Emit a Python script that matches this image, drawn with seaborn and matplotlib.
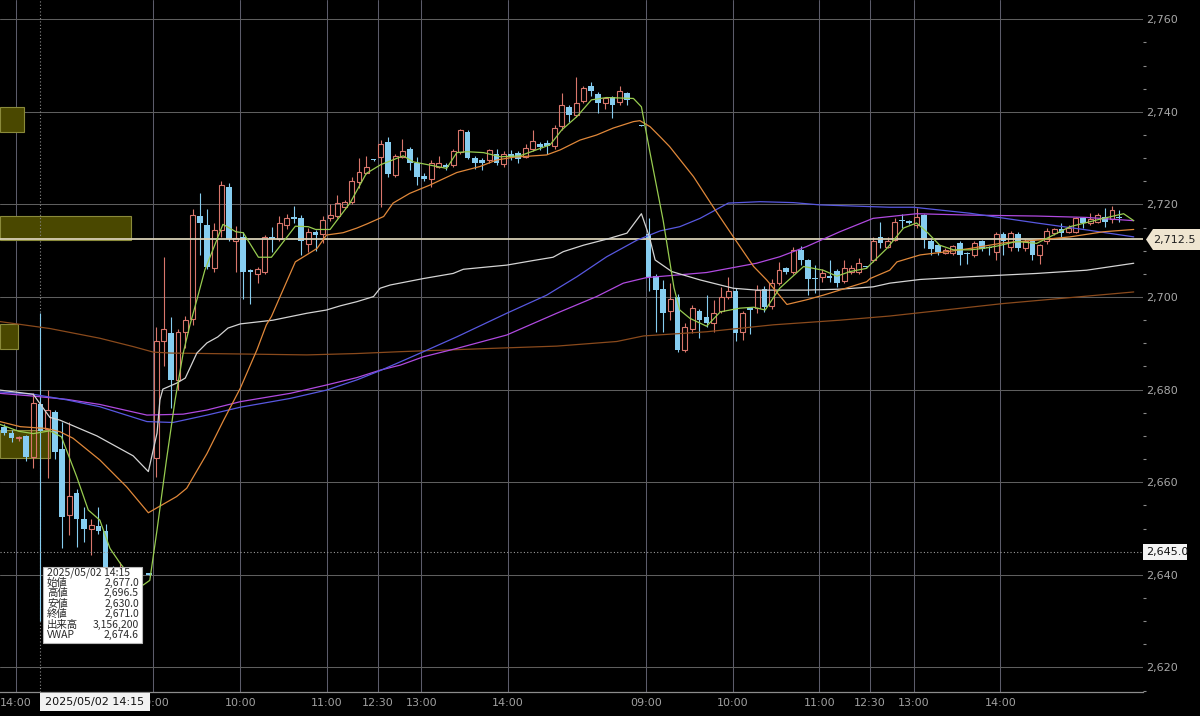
import matplotlib
matplotlib.use("Agg")
import matplotlib.pyplot as plt
import matplotlib.transforms as mtransforms
from matplotlib.patches import Rectangle, Polygon
from matplotlib.ticker import MultipleLocator, FuncFormatter
import numpy as np
import pandas as pd
import seaborn as sns

# 5-minute bars, slot 0 = 09:00 of the middle session (68 slots per session)
candle_slot = list(range(-21, 134))
nan = float("nan")

candle_open = [
    # day 1 (14:00 - 15:30)
    2672.0, 2670.7, 2669.5, 2670.0, 2665.5, 2677.0, 2671.6, 2675.1, 2667.1, 2652.9, 2657.6,
    2652.0, 2649.9, 2650.6, 2649.5, 2641.0, 2636.0, 2639.0, 2637.0, nan, 2640.3,
    # day 2
    2665.2, 2690.4, 2692.2, 2682.1, 2692.5, 2695.2, 2717.6, 2715.6, 2706.2, 2714.5, 2723.7,
    2712.2, 2713.0, 2705.8, 2705.0, 2705.5, 2713.0, 2712.5, 2715.6, 2717.3, 2717.1, 2711.4,
    2714.1, 2713.6, 2717.0, 2717.5, 2719.5, 2720.6, 2724.9, 2726.9, 2729.7, 2730.2, 2733.6,
    2726.4, 2730.2, 2732.0, 2728.9, 2726.1, 2725.6, 2728.2, 2728.6, 2728.5, 2731.4, 2735.6,
    2730.0, 2729.6, 2729.5, 2731.0, 2728.7, 2731.0, 2731.2, 2730.2, 2731.9, 2733.1, 2733.3,
    2732.6, 2737.0, 2741.1, 2739.3, 2742.4, 2745.6, 2743.9, 2742.0, 2743.2, 2742.2, 2744.0,
    nan, 2737.1,
    # day 3
    2713.6, 2704.5, 2701.7, 2697.0, 2700.1, 2688.6, 2693.2, 2697.0, 2695.6, 2694.5, 2697.0,
    2700.1, 2701.2, 2692.5, 2697.6, 2697.6, 2701.7, 2698.1, 2703.0, 2706.2, 2705.5, 2710.2,
    2708.0, 2704.2, 2704.4, 2704.6, 2705.7, 2703.5, 2705.5, 2705.5, 2706.7, 2708.0, 2713.0,
    2710.9, 2712.3, 2716.7, 2716.4, 2715.6, 2717.7, 2712.2, 2711.2, 2709.5, 2709.5, 2711.7,
    2709.6, 2709.1, 2712.0, 2710.8, 2709.8, 2713.6, 2710.9, 2713.6, 2710.7, 2712.0, 2709.1,
    2712.0, 2713.8, 2714.6, 2714.1, 2714.1, 2717.0, 2715.9, 2716.3, 2717.4, 2716.8, 2717.4,
]
candle_high = [
    2672.5, 2671.2, 2670.0, 2670.3, 2679.2, 2696.5, 2680.0, 2675.5, 2673.0, 2673.0, 2658.5,
    2654.7, 2652.0, 2654.7, 2651.0, 2642.0, 2642.8, 2641.0, 2640.0, nan, 2640.3,
    2693.5, 2708.7, 2695.6, 2693.0, 2696.0, 2719.0, 2722.5, 2719.0, 2716.0, 2725.1, 2724.6,
    2715.3, 2714.0, 2706.0, 2706.5, 2713.3, 2715.2, 2717.5, 2718.0, 2719.6, 2717.8, 2715.0,
    2714.5, 2717.5, 2720.0, 2722.0, 2721.0, 2726.0, 2730.0, 2730.5, 2729.8, 2734.0, 2734.6,
    2731.0, 2734.1, 2732.5, 2730.3, 2726.8, 2729.5, 2730.5, 2729.0, 2732.0, 2736.3, 2736.0,
    2730.5, 2730.0, 2732.0, 2732.0, 2731.5, 2731.8, 2731.6, 2733.0, 2736.1, 2733.5, 2734.0,
    2737.2, 2744.0, 2741.5, 2747.6, 2745.6, 2746.4, 2744.2, 2743.3, 2743.5, 2745.6, 2744.3,
    nan, 2737.1,
    2717.0, 2705.0, 2703.7, 2703.0, 2700.7, 2694.5, 2698.3, 2697.5, 2700.4, 2699.4, 2702.2,
    2704.4, 2702.0, 2697.0, 2697.8, 2702.6, 2702.3, 2704.0, 2707.6, 2706.5, 2710.9, 2711.0,
    2708.3, 2706.9, 2706.0, 2708.0, 2706.0, 2708.0, 2707.0, 2708.5, 2706.8, 2713.0, 2716.3,
    2713.0, 2717.0, 2718.0, 2716.6, 2719.2, 2718.0, 2712.5, 2711.5, 2710.5, 2711.3, 2712.0,
    2709.8, 2712.2, 2712.3, 2711.0, 2714.0, 2714.0, 2714.3, 2714.0, 2712.5, 2712.3, 2711.5,
    2715.0, 2715.0, 2716.1, 2715.5, 2717.3, 2717.3, 2718.1, 2718.2, 2719.2, 2719.7, 2718.7,
]
candle_low = [
    2670.2, 2668.7, 2669.0, 2664.6, 2663.0, 2630.0, 2661.0, 2665.0, 2645.7, 2648.6, 2646.0,
    2647.0, 2644.3, 2648.8, 2638.0, 2633.0, 2634.0, 2633.0, 2635.0, nan, 2640.0,
    2661.2, 2685.0, 2676.0, 2680.0, 2689.0, 2694.0, 2709.0, 2706.0, 2705.5, 2713.0, 2712.0,
    2705.5, 2699.5, 2698.6, 2703.0, 2705.0, 2709.8, 2712.0, 2714.8, 2716.0, 2709.0, 2709.8,
    2710.0, 2711.6, 2716.5, 2717.0, 2719.0, 2720.0, 2723.5, 2726.5, 2729.4, 2719.5, 2726.0,
    2726.0, 2730.0, 2727.4, 2724.2, 2725.0, 2723.8, 2727.8, 2727.4, 2728.0, 2731.0, 2729.8,
    2727.6, 2727.5, 2729.0, 2728.5, 2728.0, 2729.5, 2729.0, 2730.0, 2731.5, 2731.8, 2731.0,
    2732.0, 2736.1, 2737.9, 2739.0, 2742.0, 2743.5, 2739.7, 2740.6, 2738.6, 2741.4, 2741.5,
    nan, 2736.9,
    2701.2, 2692.5, 2692.5, 2695.0, 2688.2, 2688.2, 2692.2, 2691.1, 2693.6, 2692.5, 2696.5,
    2699.6, 2690.4, 2690.7, 2692.0, 2696.5, 2696.8, 2697.5, 2702.5, 2705.0, 2705.0, 2707.0,
    2700.4, 2700.8, 2703.3, 2703.3, 2702.2, 2703.0, 2705.0, 2705.0, 2706.4, 2707.5, 2710.5,
    2710.5, 2712.0, 2715.0, 2715.8, 2715.0, 2710.5, 2709.0, 2709.0, 2709.2, 2709.0, 2706.9,
    2707.1, 2708.6, 2710.0, 2709.0, 2708.0, 2709.1, 2710.0, 2710.0, 2710.0, 2708.0, 2707.1,
    2711.5, 2713.5, 2713.0, 2713.8, 2713.8, 2715.0, 2715.5, 2716.0, 2715.2, 2716.0, 2716.3,
]
candle_close = [
    2670.7, 2669.5, 2669.8, 2665.5, 2677.2, 2671.0, 2675.6, 2666.6, 2652.5, 2657.0, 2652.0,
    2650.0, 2650.8, 2649.5, 2641.0, 2636.0, 2639.0, 2637.0, 2638.5, nan, 2640.0,
    2690.4, 2693.2, 2682.1, 2692.5, 2695.0, 2717.7, 2715.9, 2706.4, 2714.5, 2724.2, 2712.5,
    2712.7, 2705.5, 2705.4, 2706.0, 2713.0, 2712.5, 2716.1, 2717.0, 2716.9, 2712.1, 2714.1,
    2713.4, 2716.6, 2717.7, 2720.3, 2720.6, 2725.1, 2727.1, 2728.0, 2729.5, 2733.1, 2726.6,
    2730.5, 2731.6, 2728.9, 2726.0, 2725.6, 2729.0, 2729.0, 2728.2, 2731.6, 2736.1, 2730.0,
    2728.9, 2728.9, 2731.8, 2729.0, 2731.0, 2730.2, 2729.8, 2732.1, 2733.7, 2732.5, 2732.6,
    2736.6, 2741.5, 2739.3, 2742.0, 2745.1, 2744.6, 2742.0, 2742.9, 2741.5, 2744.6, 2742.6,
    nan, 2736.9,
    2704.4, 2701.5, 2696.5, 2699.6, 2688.6, 2693.6, 2697.6, 2695.0, 2694.5, 2696.6, 2700.1,
    2701.2, 2692.2, 2696.5, 2697.2, 2701.5, 2697.9, 2703.1, 2705.8, 2705.5, 2710.2, 2707.9,
    2704.0, 2703.8, 2705.3, 2704.2, 2703.0, 2706.2, 2706.2, 2707.3, 2706.5, 2712.0, 2711.6,
    2712.2, 2716.3, 2716.4, 2716.1, 2717.2, 2712.3, 2710.3, 2709.8, 2710.2, 2711.0, 2709.1,
    2709.3, 2711.6, 2710.3, 2710.5, 2713.6, 2712.0, 2713.8, 2710.5, 2712.0, 2709.1, 2711.2,
    2714.3, 2714.6, 2713.9, 2715.0, 2717.0, 2716.1, 2716.8, 2717.7, 2716.3, 2718.7, 2717.0,
]

# indicator lines (slot, price)
ma5_slot = [-21.6, -19, -17, -14.7, -13.1, -11, -9.4, -7.8, -6.4, -5, -3.5, -1.8, -0.9, 0.1,
            1.4, 2.6, 3.7, 4.65, 5.6, 6.7, 9.2, 11, 12, 14.1, 15.9, 19.2, 21, 22, 24, 26.75,
            29, 31, 34.1, 35.5, 37.8, 40.1, 41.5, 42.9, 45.2, 47.5, 50.2, 52.5, 54.4, 56,
            58.1, 60.1, 62.2, 65.9, 67, 68.2, 70, 71.5, 72.3, 73.7, 76, 77.9, 80.6, 82.5,
            84.1, 86.1, 89.4, 92.1, 94, 95.8, 98.1, 98.6, 100.9, 103.2, 105, 106.6, 108.2,
            110.1, 112.4, 114.2, 116.1, 118.8, 121.6, 123.4, 126.2, 128.5, 130.8, 133.6, 135]
ma5_val = [2672.5, 2671.0, 2670.5, 2671.1, 2669.8, 2661.2, 2654.0, 2651.8, 2645.7, 2642.5,
           2639.5, 2637.8, 2638.8, 2649.7, 2664.8, 2677.8, 2687.8, 2694.0, 2699.4, 2705.8,
           2715.7, 2714.1, 2713.9, 2708.6, 2708.6, 2715.3, 2715.2, 2714.6, 2714.6, 2720.3,
           2726.7, 2728.6, 2730.5, 2729.2, 2728.5, 2727.8, 2731.2, 2731.4, 2731.2, 2730.3,
           2730.5, 2731.8, 2732.9, 2736.1, 2739.0, 2742.6, 2743.1, 2742.9, 2741.1, 2731.1,
           2716.6, 2702.0, 2697.2, 2695.4, 2693.7, 2696.8, 2697.6, 2697.8, 2697.2, 2701.9,
           2706.6, 2705.8, 2704.5, 2705.5, 2706.2, 2707.0, 2710.5, 2714.9, 2716.0, 2713.8,
           2711.2, 2710.2, 2710.2, 2710.5, 2711.0, 2712.0, 2711.6, 2713.0, 2715.2, 2716.1,
           2717.0, 2718.0, 2716.5]

ma25_slot = [-21.6, -18.8, -15.1, -13.3, -11.5, -7.8, -4.1, -1.1, 2.8, 4.2, 7, 9.3, 11.6,
             13.9, 15.2, 15.9, 16.9, 19.2, 22.2, 23.5, 25.8, 27.7, 29.1, 31.4, 32.7, 35,
             37.8, 41.5, 44.7, 47, 49.3, 53.9, 55.8, 58.5, 60.8, 63.1, 65.9, 66.8, 68.2,
             69.6, 70.9, 74.2, 76.9, 79.7, 82.5, 84.3, 87.1, 89.8, 92.1, 94.4, 98.1, 98.6,
             101.3, 102.3, 105.5, 109.2, 112.4, 117, 121.6, 126.2, 130.8, 135]
ma25_val = [2673.1, 2672.0, 2671.6, 2670.9, 2669.5, 2664.8, 2659.0, 2653.4, 2656.9, 2658.7,
            2666.2, 2673.4, 2680.3, 2688.6, 2694.0, 2695.8, 2699.4, 2707.6, 2710.5, 2713.4,
            2713.9, 2714.9, 2715.8, 2717.4, 2720.3, 2722.4, 2724.2, 2726.9, 2728.2, 2729.6,
            2730.2, 2730.7, 2731.8, 2733.9, 2735.0, 2736.5, 2737.9, 2738.1, 2736.8, 2734.6,
            2732.5, 2726.0, 2719.5, 2713.0, 2706.6, 2703.7, 2698.4, 2699.4, 2700.4, 2701.5,
            2703.3, 2704.0, 2705.8, 2707.6, 2709.1, 2709.8, 2710.5, 2711.7, 2712.3, 2713.0,
            2714.1, 2714.6]

vwap_slot = [-21.6, -17, -14.7, -13.3, -8.2, -3.2, -1.1, 0.1, 0.5, 0.9, 2.8, 4, 5.6, 7,
             8.5, 9.9, 11.6, 16.1, 20.8, 23.5, 25.4, 27.7, 30, 30.9, 32.3, 36.9, 41, 42.4,
             48.4, 52.1, 54.8, 56.2, 59, 62.2, 65, 67, 68.1, 68.9, 71.2, 75.1, 79.7, 82.9,
             89.8, 94.4, 99, 101.3, 105.5, 112.4, 121.6, 128.5, 135]
vwap_val = [2679.9, 2679.0, 2674.0, 2673.4, 2670.0, 2665.7, 2662.3, 2670.6, 2677.8, 2680.1,
            2681.4, 2682.5, 2687.9, 2690.1, 2691.4, 2693.3, 2694.2, 2695.0, 2696.5, 2697.2,
            2698.1, 2699.0, 2700.1, 2701.9, 2702.6, 2704.0, 2705.1, 2706.0, 2706.9, 2707.9,
            2708.6, 2709.8, 2711.2, 2712.5, 2713.8, 2718.0, 2713.0, 2708.0, 2705.5, 2703.7,
            2701.9, 2701.5, 2701.5, 2701.7, 2702.2, 2703.0, 2703.8, 2704.4, 2705.1, 2705.8,
            2707.3]

ma75_slot = [-21.6, -17, -12.4, -7.8, -1.3, 2.3, 7, 11.6, 18.5, 23.5, 27.7, 30.9, 33.7, 36.9,
             41.5, 48.4, 53.9, 58.1, 62.2, 66.4, 69.6, 72.3, 75.1, 79, 83.4, 88, 91.7,
             101.3, 104.6, 112.4, 121.6, 128.5, 135]
ma75_val = [2679.5, 2679.0, 2677.8, 2676.3, 2673.1, 2672.9, 2674.5, 2676.2, 2678.1, 2679.9,
            2682.1, 2684.1, 2686.0, 2688.2, 2691.4, 2696.5, 2700.4, 2704.4, 2708.7, 2712.3,
            2714.3, 2715.2, 2717.0, 2720.3, 2720.6, 2720.4, 2719.9, 2719.4, 2719.4, 2718.1,
            2716.0, 2714.5, 2713.0]

ma100_slot = [-21.6, -17, -12.4, -7.8, -1.3, 3.7, 7, 11.6, 18.5, 23.5, 27.7, 30.9, 33.7,
              36.9, 41.5, 48.4, 55.3, 60.8, 64.5, 67.7, 76, 82.9, 86.1, 89.8, 94.4, 99,
              103.2, 105, 112.4, 121.6, 128.5, 135]
ma100_val = [2679.2, 2678.6, 2677.9, 2676.8, 2674.5, 2674.7, 2675.6, 2677.4, 2679.2, 2681.0,
             2682.6, 2684.2, 2685.3, 2687.1, 2688.9, 2691.8, 2696.5, 2700.1, 2703.0, 2704.2,
             2705.3, 2707.3, 2708.7, 2710.9, 2714.1, 2717.0, 2717.7, 2718.0, 2717.7, 2717.5,
             2717.2, 2716.5]

ma200_slot = [-21.6, -14.7, -7.8, -3.2, -0.4, 2.0, 11.6, 20.8, 27.7, 33.7, 46.1, 55.3, 63.6,
              67.3, 76, 85.2, 94.4, 101.3, 117, 135]
ma200_val = [2694.7, 2693.2, 2691.1, 2689.3, 2688.1, 2687.9, 2687.7, 2687.5, 2687.8, 2688.2,
             2688.9, 2689.4, 2690.4, 2691.6, 2692.5, 2694.0, 2695.0, 2695.9, 2698.6, 2701.1]

# price-band volume boxes on the left edge
band_low = [2735.7, 2712.3, 2688.8, 2665.3]
band_high = [2741.1, 2717.6, 2694.1, 2671.3]
band_volume = [21, 116, 16, 44]

tick_slot = [-19, 0, 12, 24, 31, 37, 49, 68, 80, 92, 99, 105, 117]
tick_text = ["14:00", "09:00", "10:00", "11:00", "12:30", "13:00", "14:00",
             "09:00", "10:00", "11:00", "12:30", "13:00", "14:00"]

last_price = 2712.5
cursor_slot = -16
cursor_price = 2645.0
cursor_time = "2025/05/02 14:15"
cursor_volume = 3156200
cursor_vwap = 2674.6

UP = "#d9766c"
DOWN = "#86cdf0"
W, H = 1200, 716

sns.set_theme(style="dark")
plt.rcParams["font.family"] = ["DejaVu Sans", "Noto Sans CJK JP"]

fig = plt.figure(figsize=(12, 7.16), dpi=100, facecolor="black")
ax = fig.add_axes([0, 24 / H, 1143 / W, 692 / H])
ax.set_facecolor("black")
ax.set_xlim(-21.59, 136.28)
ax.set_ylim(2614.68, 2764.17)

# grid
ax.set_xticks(np.array(tick_slot) - 0.41, tick_text)
ax.yaxis.set_major_locator(MultipleLocator(20))
ax.yaxis.set_minor_locator(MultipleLocator(5))
ax.yaxis.set_major_formatter(FuncFormatter(lambda v, p: f"{v:,.0f}"))
ax.yaxis.tick_right()
ax.grid(axis="x", color="#5c5c6a", linewidth=0.75, zorder=0)
ax.grid(axis="y", which="major", color="#5e5e5e", linewidth=0.75, zorder=0)
ax.tick_params(axis="x", length=0, pad=4, labelsize=8, labelcolor="#a0a0a0")
ax.tick_params(axis="y", which="major", length=0, pad=2.5, labelsize=8, labelcolor="#a8a8a8")
ax.tick_params(axis="y", which="minor", length=2.4, width=0.8, color="#8a8a8a", right=True, left=False)
for s in ["top", "left", "right"]:
    ax.spines[s].set_visible(False)
ax.spines["bottom"].set_color("#8c8c8c")
ax.spines["bottom"].set_linewidth(0.9)

# price-band boxes
blend = mtransforms.blended_transform_factory(ax.transAxes, ax.transData)
vmax = max(band_volume)
for lo, hi, v in zip(band_low, band_high, band_volume):
    ax.add_patch(Rectangle((0, lo), v / vmax * 0.1143, hi - lo, transform=blend,
                           facecolor="#4a4800", edgecolor="#8a8a3a", linewidth=0.8, zorder=1))

# candles
df = pd.DataFrame({"slot": candle_slot, "open": candle_open, "high": candle_high,
                   "low": candle_low, "close": candle_close}).dropna()
up = df[df["close"] >= df["open"]]
dn = df[df["close"] < df["open"]]

ax.vlines(dn["slot"], dn["low"], dn["high"], color=DOWN, linewidth=0.8, zorder=2)
ax.bar(dn["slot"], np.maximum(dn["open"] - dn["close"], 0.25), bottom=dn["close"],
       width=0.78, color=DOWN, linewidth=0, zorder=2.5)

ax.vlines(up["slot"], up["low"], up["open"], color=UP, linewidth=0.8, zorder=2)
ax.vlines(up["slot"], up["close"], up["high"], color=UP, linewidth=0.8, zorder=2)
ax.bar(up["slot"], np.maximum(up["close"] - up["open"], 0.2), bottom=up["open"],
       width=0.68, facecolor="none", edgecolor=UP, linewidth=0.8, zorder=2.5)

# indicator lines
lines = [
    (ma200_slot, ma200_val, "#8a4a1c"),
    (ma100_slot, ma100_val, "#b04ae0"),
    (ma75_slot, ma75_val, "#5858e0"),
    (vwap_slot, vwap_val, "#d4d4d4"),
    (ma25_slot, ma25_val, "#e0883a"),
    (ma5_slot, ma5_val, "#98cc50"),
]
for xs, ys, col in lines:
    sns.lineplot(x=xs, y=ys, ax=ax, color=col, linewidth=0.9, sort=False,
                 estimator=None, legend=False, zorder=4)

# last price and cursor lines
ax.axhline(last_price, color="#d8d0b6", linewidth=1.3, zorder=3.6)
ax.axhline(cursor_price, color="#9a9a9a", linewidth=0.8, linestyle=(0, (1, 2)), zorder=3.5)
ax.axvline(cursor_slot, color="#8a8a8a", linewidth=0.8, linestyle=(0, (1, 2)), zorder=1.5)


def fx(px):
    return px / W


def fy(py):
    return 1 - py / H


# last price tag
tag = Polygon([(fx(1146), fy(239.5)), (fx(1153), fy(229)), (fx(1200), fy(229)),
               (fx(1200), fy(250)), (fx(1153), fy(250))], closed=True,
              transform=fig.transFigure, facecolor="#efe5d0", edgecolor="none", zorder=20)
fig.add_artist(tag)
fig.text(fx(1153), fy(239.5), f"{last_price:,.1f}", fontsize=8, color="#1e1e1e",
         va="center", ha="left", zorder=21)

# cursor price tag
fig.add_artist(Rectangle((fx(1143), fy(560)), fx(44), 16.5 / H, transform=fig.transFigure,
                         facecolor="#f4f4f4", edgecolor="none", zorder=20))
fig.text(fx(1146), fy(551.8), f"{cursor_price:,.1f}", fontsize=8, color="#111111",
         va="center", ha="left", zorder=21)

# cursor time tag
fig.add_artist(Rectangle((fx(40), fy(711)), fx(110), 18 / H, transform=fig.transFigure,
                         facecolor="#f2f2f2", edgecolor="none", zorder=20))
fig.text(fx(95), fy(702), cursor_time, fontsize=8, color="#111111",
         va="center", ha="center", zorder=21)

# tooltip
fig.add_artist(Rectangle((fx(43), fy(642.7)), fx(98.7), 76 / H, transform=fig.transFigure,
                         facecolor="white", edgecolor="#b8b8b8", linewidth=0.8, zorder=20))
cur = candle_slot.index(cursor_slot)
tip_labels = ["始値", "高値", "安値", "終値", "出来高", "VWAP"]
tip_values = [f"{candle_open[cur]:,.1f}", f"{candle_high[cur]:,.1f}", f"{candle_low[cur]:,.1f}",
              f"{candle_close[cur]:,.1f}", f"{cursor_volume:,}", f"{cursor_vwap:,.1f}"]
tip_font = ["Noto Sans CJK JP", "DejaVu Sans"]
row_y = 572.6
fig.text(fx(47), fy(row_y), cursor_time, fontsize=7.5, family=tip_font, color="#2a2a2a",
         va="center", ha="left", zorder=21)
for lab, val in zip(tip_labels, tip_values):
    row_y += 10.4
    fig.text(fx(47), fy(row_y), lab, fontsize=7.5, family=tip_font, color="#2a2a2a",
             va="center", ha="left", zorder=21)
    fig.text(fx(139), fy(row_y), val, fontsize=7.5, family=tip_font, color="#2a2a2a",
             va="center", ha="right", zorder=21)

fig.savefig("out.png", dpi=100, facecolor="black")
